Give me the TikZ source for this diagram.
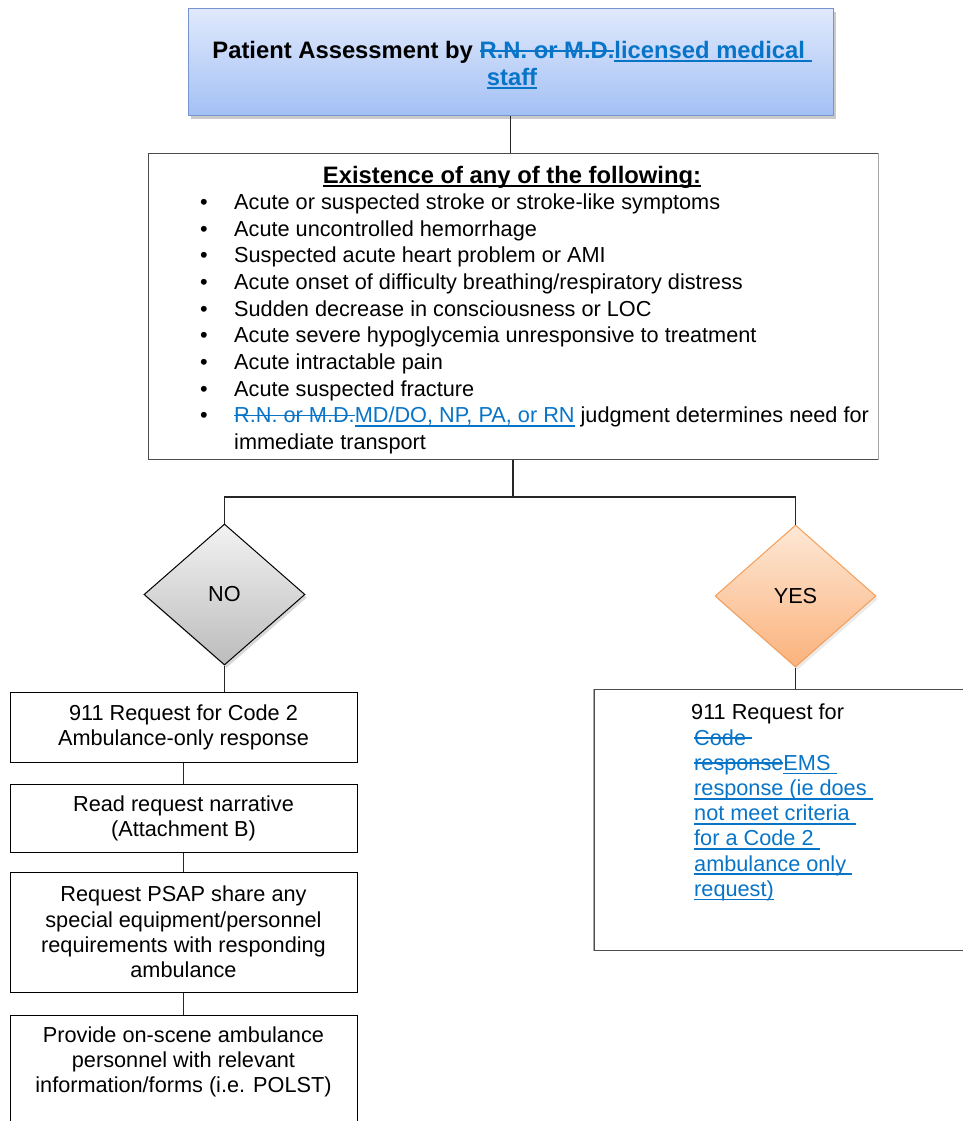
\documentclass[tikz,border=0pt]{standalone}
\usepackage{fontspec}
\setmainfont{Liberation Sans}
\usetikzlibrary{shapes.geometric,shadows}
\definecolor{trk}{RGB}{8,116,200}
\definecolor{topA}{RGB}{224,233,252}
\definecolor{topB}{RGB}{163,192,244}
\definecolor{topD}{RGB}{118,148,206}
\definecolor{noA}{RGB}{242,242,242}
\definecolor{noB}{RGB}{188,188,188}
\definecolor{yesA}{RGB}{253,232,214}
\definecolor{yesB}{RGB}{251,178,124}
\definecolor{yesD}{RGB}{244,158,88}
\newcommand{\myfs}{\fontsize{21.7}{25.2}\selectfont}
\newcommand{\bigfs}{\fontsize{23.8}{27}\selectfont}
\newcommand{\trk}[1]{{\color{trk}#1}}
\newcommand{\myul}[1]{\setbox0\hbox{#1}\rlap{\rule[-4pt]{\wd0}{1.7pt}}\box0}
\newcommand{\myso}[1]{\setbox0\hbox{#1}\rlap{\rule[6.6pt]{\wd0}{1.7pt}}\box0}
\begin{document}
\begin{tikzpicture}[x=1pt,y=-1pt,
  every node/.style={font=\myfs, inner sep=0pt},
  link/.style={draw=black!85, line width=1.2pt},
  topbox/.style={draw=topD, line width=1pt, top color=topA, bottom color=topB,
     drop shadow={shadow xshift=3pt, shadow yshift=-3pt, fill=black!35, opacity=.6},
     minimum width=645pt, minimum height=107pt},
  mainbox/.style={draw=black!70, line width=1pt, minimum width=730pt, minimum height=306pt},
  nodia/.style={diamond, draw=black, line width=1pt, top color=noA, bottom color=noB,
     minimum width=161pt, minimum height=141pt,
     drop shadow={shadow xshift=2pt, shadow yshift=-3pt, fill=black!30, opacity=.5}},
  yesdia/.style={diamond, draw=yesD, line width=1pt, top color=yesA, bottom color=yesB,
     minimum width=161pt, minimum height=142pt,
     drop shadow={shadow xshift=2pt, shadow yshift=-3pt, fill=black!20, opacity=.4}},
  stepbox/.style={draw=black, line width=1pt, minimum width=347pt, align=center},
  bul/.style={anchor=base},
  item/.style={anchor=base west}
]
\useasboundingbox (0,0) rectangle (963,1121);

% top box
\node[topbox] (top) at (510.5,62.5) {};
\node[align=center, font=\bigfs] (toptext) at (512,65) {\textbf{Patient Assessment by \trk{\myso{R.N. or M.D.}\myul{licensed medical\ }}}\\\textbf{\trk{\myul{staff}}}};

% main box
\node[mainbox] (main) at (513,306) {};
\draw[draw=black!35, line width=1pt] (main.north east) -- (main.south east);
\node[anchor=base, font=\bigfs] (head) at (512,183) {\textbf{\myul{Existence of any of the following:}}};
\foreach \t [count=\i from 0] in {Acute or suspected stroke or stroke-like symptoms,
  Acute uncontrolled hemorrhage,
  Suspected acute heart problem or AMI,
  Acute onset of difficulty breathing/respiratory distress,
  Sudden decrease in consciousness or LOC,
  Acute severe hypoglycemia unresponsive to treatment,
  Acute intractable pain,
  Acute suspected fracture} {
  \node[bul] (bu\i) at (204,{209.5+26.67*\i}) {•};
  \node[item] (it\i) at (234,{209.5+26.67*\i}) {\t};
}
\node[bul] (bu8) at (204,422.9) {•};
\node[item] (it8) at (234,422.9) {\trk{\myso{R.N. or M.D.}\myul{MD/DO, NP, PA, or RN}} judgment determines need for};
\node[item] (it9) at (234,449.5) {immediate transport};

% diamonds
\node[nodia] (no) at (224.5,594.5) {NO};
\node[yesdia] (yes) at (795.5,596) {YES};

% left column boxes
\node[stepbox, minimum height=70pt] (b1) at (183.5,727) {911 Request for Code 2\\Ambulance-only response};
\node[stepbox, minimum height=68pt] (b2) at (183.5,818) {Read request narrative\\(Attachment B)};
\node[stepbox, minimum height=120pt] (b3) at (183.5,932) {Request PSAP share any\\special equipment/personnel\\requirements with responding\\ambulance};
\node[stepbox, minimum height=125pt] (b4) at (183.5,1077.5) {};
\node[align=center] (b4t) at (183.5,1062) {Provide on-scene ambulance\\personnel with relevant\\information/forms (i.e. POLST)};

% right box
\node[draw=black!70, line width=1pt, minimum width=420pt, minimum height=261pt] (rb) at (804,819.5) {};
\draw[draw=black!35, line width=1pt] (rb.north west) -- (rb.south west);
\node[anchor=north west, align=left] (rbt) at (691,704) {911 Request for\\
\hspace*{3pt}\trk{\myso{Code\ }}\\
\hspace*{3pt}\trk{\myso{response}\myul{EMS\ }}\\
\hspace*{3pt}\trk{\myul{response (ie does\ }}\\
\hspace*{3pt}\trk{\myul{not meet criteria\ }}\\
\hspace*{3pt}\trk{\myul{for a Code 2\ }}\\
\hspace*{3pt}\trk{\myul{ambulance only\ }}\\
\hspace*{3pt}\trk{\myul{request)}}};

% connectors
\draw[link] (top.south) -- (top.south |- main.north);
\coordinate (j) at (512,497);
\draw[link] (main.south) -- (main.south |- j);
\draw[link] (no.north) -- (no.north |- j) -- (yes.north |- j) -- (yes.north);
\draw[link] (no.south) -- (no.south |- b1.north);
\draw[link] (b1.south) -- (b2.north);
\draw[link] (b2.south) -- (b3.north);
\draw[link] (b3.south) -- (b4.north);
\draw[link] (yes.south) -- (yes.south |- rb.north);
\end{tikzpicture}
\end{document}
